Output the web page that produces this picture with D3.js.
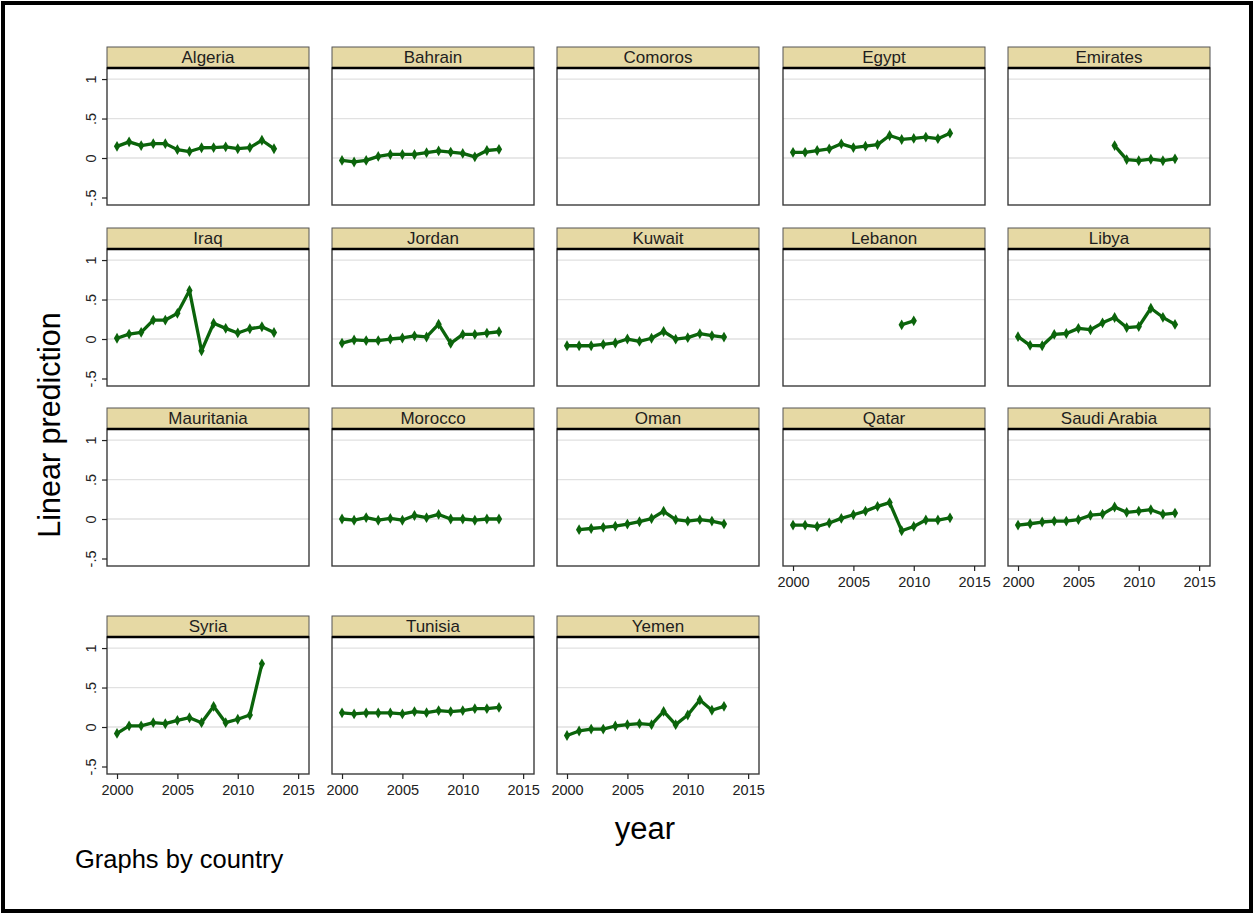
<!DOCTYPE html>
<html>
<head>
<meta charset="utf-8">
<script src="https://cdn.jsdelivr.net/npm/d3@7"></script>
<style>
  html, body { margin: 0; padding: 0; background: #fff; }
  svg { display: block; font-family: Arial, "Liberation Sans", sans-serif; }
</style>
</head>
<body>
<svg id="chart" width="1255" height="915"></svg>
<script>
// Linear prediction by year, one panel per country (2000–2013)
const countries = ["Algeria", "Bahrain", "Comoros", "Egypt", "Emirates",
  "Iraq", "Jordan", "Kuwait", "Lebanon", "Libya",
  "Mauritania", "Morocco", "Oman", "Qatar", "Saudi Arabia",
  "Syria", "Tunisia", "Yemen"];

// first year of each series (values are consecutive years from there)
const startYear = {
  "Algeria": 2000, "Bahrain": 2000, "Comoros": 2000, "Egypt": 2000, "Emirates": 2008,
  "Iraq": 2000, "Jordan": 2000, "Kuwait": 2000, "Lebanon": 2009, "Libya": 2000,
  "Mauritania": 2000, "Morocco": 2000, "Oman": 2001, "Qatar": 2000, "Saudi Arabia": 2000,
  "Syria": 2000, "Tunisia": 2000, "Yemen": 2000
};

const algeria    = [0.148, 0.205, 0.157, 0.182, 0.182, 0.106, 0.082, 0.130, 0.132, 0.142, 0.118, 0.132, 0.225, 0.118];
const bahrain    = [-0.030, -0.050, -0.030, 0.020, 0.045, 0.045, 0.045, 0.068, 0.090, 0.075, 0.058, 0.015, 0.095, 0.110];
const comoros    = [];
const egypt      = [0.072, 0.072, 0.095, 0.115, 0.180, 0.132, 0.150, 0.170, 0.285, 0.235, 0.248, 0.265, 0.245, 0.315];
const emirates   = [0.157, -0.020, -0.034, -0.015, -0.034, -0.010];
const iraq       = [0.010, 0.062, 0.085, 0.240, 0.240, 0.325, 0.615, -0.150, 0.200, 0.135, 0.077, 0.130, 0.155, 0.082];
const jordan     = [-0.052, -0.012, -0.020, -0.020, 0.000, 0.013, 0.040, 0.026, 0.188, -0.056, 0.058, 0.058, 0.075, 0.092];
const kuwait     = [-0.085, -0.085, -0.085, -0.068, -0.050, 0.000, -0.030, 0.010, 0.095, -0.002, 0.017, 0.068, 0.042, 0.024];
const lebanon    = [0.180, 0.230];
const libya      = [0.030, -0.080, -0.085, 0.058, 0.070, 0.135, 0.118, 0.205, 0.272, 0.145, 0.158, 0.390, 0.275, 0.185];
const mauritania = [];
const morocco    = [0.000, -0.015, 0.018, -0.015, 0.008, -0.015, 0.045, 0.017, 0.058, 0.000, 0.000, -0.015, 0.000, 0.000];
const oman       = [-0.135, -0.120, -0.105, -0.090, -0.064, -0.034, 0.006, 0.098, -0.008, -0.026, -0.008, -0.026, -0.062];
const qatar      = [-0.077, -0.077, -0.095, -0.050, 0.008, 0.054, 0.100, 0.160, 0.208, -0.148, -0.094, -0.013, -0.013, 0.015];
const saudi      = [-0.077, -0.060, -0.038, -0.026, -0.026, -0.008, 0.048, 0.062, 0.152, 0.085, 0.100, 0.118, 0.060, 0.075];
const syria      = [-0.081, 0.015, 0.015, 0.055, 0.042, 0.085, 0.118, 0.055, 0.262, 0.055, 0.098, 0.152, 0.800];
const tunisia    = [0.180, 0.166, 0.178, 0.178, 0.178, 0.166, 0.195, 0.182, 0.208, 0.195, 0.208, 0.232, 0.232, 0.248];
const yemen      = [-0.107, -0.050, -0.026, -0.026, 0.013, 0.030, 0.043, 0.030, 0.198, 0.030, 0.152, 0.342, 0.212, 0.262];

const seriesByCountry = {
  "Algeria": algeria, "Bahrain": bahrain, "Comoros": comoros, "Egypt": egypt, "Emirates": emirates,
  "Iraq": iraq, "Jordan": jordan, "Kuwait": kuwait, "Lebanon": lebanon, "Libya": libya,
  "Mauritania": mauritania, "Morocco": morocco, "Oman": oman, "Qatar": qatar, "Saudi Arabia": saudi,
  "Syria": syria, "Tunisia": tunisia, "Yemen": yemen
};

const yTicks = [-0.5, 0, 0.5, 1];
const yTickLabels = ["-.5", "0", ".5", "1"];
const yGrid = [0, 0.5, 1];
const xTicks = [2000, 2005, 2010, 2015];

// ---- layout ----
const colLeft = [107, 332, 557, 783, 1008];
const panelW = 202;
const stripTop = [47, 228, 408, 616];
const stripH = 21;
const plotH = 137;
const nCols = 5;

const lineColor = "#0b640b";
const svg = d3.select("#chart");

// outer frame
svg.append("rect")
  .attr("x", 3).attr("y", 3).attr("width", 1248).attr("height", 908)
  .attr("fill", "#fff").attr("stroke", "#000").attr("stroke-width", 4);

const nItems = countries.length;

countries.forEach((name, i) => {
  const row = Math.floor(i / nCols);
  const col = i % nCols;
  const x0 = colLeft[col];
  const sTop = stripTop[row];
  const pTop = sTop + stripH;
  const pBot = pTop + plotH;

  const x = d3.scaleLinear().domain([1999.17, 2015.9]).range([x0, x0 + panelW]);
  const y = d3.scaleLinear().domain([-0.595, 1.14]).range([pBot, pTop]);

  const g = svg.append("g");

  // plot region
  g.append("rect")
    .attr("x", x0).attr("y", pTop).attr("width", panelW).attr("height", plotH)
    .attr("fill", "#fff");

  // gridlines
  g.selectAll("line.grid").data(yGrid).join("line")
    .attr("class", "grid")
    .attr("x1", x0).attr("x2", x0 + panelW)
    .attr("y1", d => y(d)).attr("y2", d => y(d))
    .attr("stroke", "#e1e1e1").attr("stroke-width", 1.3);

  // plot box
  g.append("rect")
    .attr("x", x0).attr("y", pTop).attr("width", panelW).attr("height", plotH)
    .attr("fill", "none").attr("stroke", "#3c3c3c").attr("stroke-width", 1.4);

  // strip with country name
  g.append("rect")
    .attr("x", x0).attr("y", sTop).attr("width", panelW).attr("height", stripH)
    .attr("fill", "#e6d9a4").attr("stroke", "#555").attr("stroke-width", 1);
  g.append("line")
    .attr("x1", x0).attr("x2", x0 + panelW)
    .attr("y1", pTop).attr("y2", pTop)
    .attr("stroke", "#000").attr("stroke-width", 2.5);
  g.append("text")
    .attr("x", x0 + panelW / 2).attr("y", sTop + 16)
    .attr("text-anchor", "middle")
    .attr("font-size", 17).attr("fill", "#1e1e1e")
    .text(name);

  // y axis on the first column
  if (col === 0) {
    const yAxis = d3.axisLeft(y).tickValues(yTicks).tickSize(5)
      .tickFormat((d, k) => yTickLabels[k]);
    const ya = g.append("g").attr("transform", `translate(${x0},0)`).call(yAxis);
    ya.select(".domain").remove();
    ya.selectAll(".tick line").attr("stroke", "#222").attr("stroke-width", 1.2);
    ya.selectAll(".tick text")
      .attr("font-size", 14.5).attr("fill", "#222")
      .attr("font-family", "Arial, 'Liberation Sans', sans-serif")
      .attr("x", null).attr("dy", null)
      .attr("text-anchor", "middle")
      .attr("transform", "translate(-16,0) rotate(-90)")
      .attr("y", 0).attr("dy", "0.32em");
  }

  // x axis on panels with nothing below them
  const hasBelow = i + nCols < nItems;
  if (!hasBelow) {
    const xAxis = d3.axisBottom(x).tickValues(xTicks).tickSize(5).tickFormat(d3.format("d"));
    const xa = g.append("g").attr("transform", `translate(0,${pBot})`).call(xAxis);
    xa.select(".domain").remove();
    xa.selectAll(".tick line").attr("stroke", "#222").attr("stroke-width", 1.2);
    xa.selectAll(".tick text")
      .attr("font-size", 14.5).attr("fill", "#222")
      .attr("font-family", "Arial, 'Liberation Sans', sans-serif")
      .attr("y", 11);
  }

  // series
  const vals = seriesByCountry[name];
  const pts = vals.map((v, k) => ({ year: startYear[name] + k, value: v }));
  if (pts.length) {
    const line = d3.line().x(d => x(d.year)).y(d => y(d.value));
    g.append("path").datum(pts)
      .attr("d", line)
      .attr("fill", "none")
      .attr("stroke", lineColor).attr("stroke-width", 3.3)
      .attr("stroke-linejoin", "round");
    g.selectAll("path.pt").data(pts).join("path")
      .attr("class", "pt")
      .attr("transform", d => `translate(${x(d.year)},${y(d.value)})`)
      .attr("d", d3.symbol(d3.symbolDiamond, 34))
      .attr("fill", lineColor);
  }
});

// axis titles and note
svg.append("text")
  .attr("transform", "translate(60,425) rotate(-90)")
  .attr("text-anchor", "middle")
  .attr("font-size", 30.5).attr("fill", "#000")
  .text("Linear prediction");

svg.append("text")
  .attr("x", 645).attr("y", 839)
  .attr("text-anchor", "middle")
  .attr("font-size", 31).attr("fill", "#000")
  .text("year");

svg.append("text")
  .attr("x", 75).attr("y", 868)
  .attr("font-size", 25.5).attr("fill", "#000")
  .text("Graphs by country");
</script>
</body>
</html>
